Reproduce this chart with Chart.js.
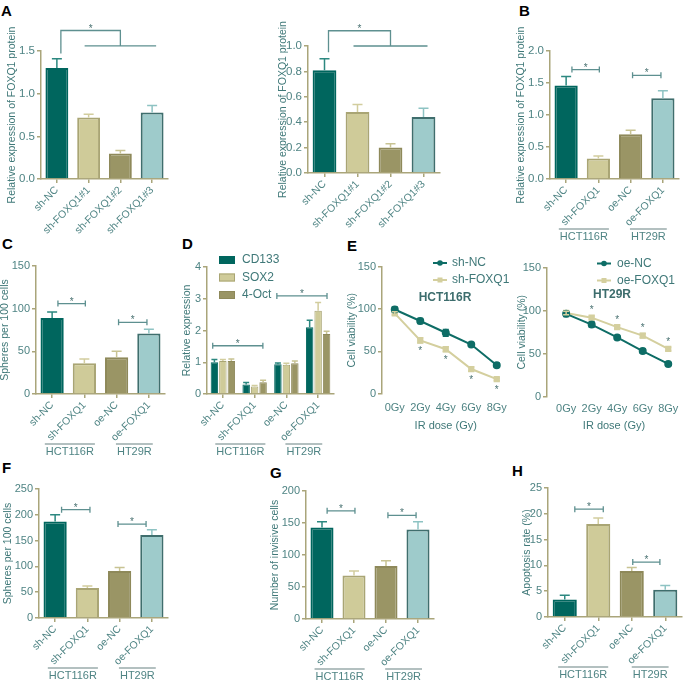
<!DOCTYPE html>
<html>
<head>
<meta charset="utf-8">
<script src="https://cdn.jsdelivr.net/npm/chart.js@4.4.1/dist/chart.umd.min.js"></script>
<style>
  body { margin: 0; background: #fff; width: 685px; height: 681px; position: relative; overflow: hidden; }
  canvas { position: absolute; }
  .lbl { position: absolute; font: bold 15px "Liberation Sans", Arial, sans-serif; line-height: 15px; color: #000; }
</style>
</head>
<body>
<div class="lbl" style="left:1px;top:3px">A</div>
<div class="lbl" style="left:519px;top:3px">B</div>
<div class="lbl" style="left:2px;top:236px">C</div>
<div class="lbl" style="left:182px;top:236px">D</div>
<div class="lbl" style="left:347px;top:238px">E</div>
<div class="lbl" style="left:2px;top:460px">F</div>
<div class="lbl" style="left:270px;top:465px">G</div>
<div class="lbl" style="left:512px;top:463px">H</div>

<canvas id="a1"></canvas>
<canvas id="a2"></canvas>
<canvas id="b"></canvas>
<canvas id="c"></canvas>
<canvas id="d"></canvas>
<canvas id="e1"></canvas>
<canvas id="e2"></canvas>
<canvas id="f"></canvas>
<canvas id="g"></canvas>
<canvas id="h"></canvas>

<script>
// categories
const shLabels = ['sh-NC', 'sh-FOXQ1#1', 'sh-FOXQ1#2', 'sh-FOXQ1#3'];
const groups4 = ['sh-NC', 'sh-FOXQ1', 'oe-NC', 'oe-FOXQ1'];
const cellLines = ['HCT116R', 'HT29R'];
const markers = ['CD133', 'SOX2', '4-Oct'];
const doses = [0, 2, 4, 6, 8];

// values (mean, error)
const a1Vals = [1.30, 0.72, 0.30, 0.78];
const a1Err = [0.11, 0.04, 0.035, 0.08];
const a2Vals = [0.81, 0.48, 0.20, 0.44];
const a2Err = [0.09, 0.06, 0.03, 0.07];
const bVals = [1.46, 0.32, 0.70, 1.26];
const bErr = [0.14, 0.04, 0.06, 0.12];
const cVals = [89, 36, 43, 71];
const cErr = [7, 5, 7, 5];
const dCD133 = [1.00, 0.30, 0.94, 2.10];
const dCD133Err = [0.09, 0.06, 0.04, 0.22];
const dSOX2 = [1.04, 0.24, 0.92, 2.62];
const dSOX2Err = [0.05, 0.03, 0.05, 0.26];
const dOct4 = [1.04, 0.37, 0.97, 1.89];
const dOct4Err = [0.06, 0.06, 0.07, 0.09];
const e1ShNC = [99.6, 86, 72, 58, 33.5];
const e1ShNCErr = [3, 3, 4, 2, 2.5];
const e1ShFOXQ1 = [95, 63, 52.5, 29, 17];
const e1ShFOXQ1Err = [2, 3, 3, 2.5, 1.5];
const e2OeNC = [96.5, 84, 69, 53, 38];
const e2OeNCErr = [3, 3, 2, 2.5, 1.5];
const e2OeFOXQ1 = [97.5, 92, 81, 71, 55.5];
const e2OeFOXQ1Err = [2, 2, 2, 2.5, 2];
const fVals = [187, 58, 91, 161];
const fErr = [13, 4, 7, 10];
const gVals = [143, 68, 83, 140];
const gErr = [9, 7, 8, 12];
const hVals = [3.4, 18.0, 8.9, 5.3];
const hErr = [0.8, 1.2, 0.7, 0.8];

const FONT = '"Liberation Sans", Arial, sans-serif';
const AXIS = '#aaa57a';
const TICK = '#4f8484';
const TITLE = '#3f7878';
const SIG = '#5e9090';
const TEAL = '#00665e', KHAKI = '#cfcb99', OLIVE = '#9a9565', LTEAL = '#9ecbcb';
const FILL4 = [TEAL, KHAKI, OLIVE, LTEAL];
const EDGE4 = [TEAL, '#a9a574', '#8e895a', '#3f6e6d'];
const ERR4 = ['#2c8880', '#d2cd9e', '#c8c393', '#8ec3c3'];

Chart.defaults.font.family = FONT;
Chart.defaults.color = TICK;
Chart.defaults.animation = false;
Chart.defaults.plugins.legend.display = false;
Chart.defaults.plugins.tooltip.enabled = false;

// error bars (up only on bars, both ways on lines)
const errorBars = {
  id: 'errorBars',
  afterDatasetsDraw(chart) {
    const ctx = chart.ctx, ys = chart.scales.y;
    chart.data.datasets.forEach((ds, di) => {
      if (!ds.err) return;
      const meta = chart.getDatasetMeta(di);
      const isLine = meta.type === 'line';
      meta.data.forEach((el, i) => {
        const raw = ds.data[i];
        const v = typeof raw === 'object' ? raw.y : raw;
        const top = ys.getPixelForValue(v + ds.err[i]);
        const base = isLine ? ys.getPixelForValue(v - ds.err[i]) : el.y;
        const cap = ds.cap || 5;
        ctx.save();
        ctx.strokeStyle = Array.isArray(ds.errColor) ? ds.errColor[i] : ds.errColor;
        ctx.lineWidth = 1.5;
        ctx.beginPath();
        ctx.moveTo(el.x, base); ctx.lineTo(el.x, top);
        ctx.moveTo(el.x - cap, top); ctx.lineTo(el.x + cap, top);
        if (isLine) { ctx.moveTo(el.x - cap, base); ctx.lineTo(el.x + cap, base); }
        ctx.stroke();
        ctx.restore();
      });
    });
  }
};

// significance brackets |--*--|
const sig = {
  id: 'sig',
  afterDraw(chart, args, o) {
    const ctx = chart.ctx, xs = chart.scales.x, ys = chart.scales.y;
    const sp = xs.getPixelForValue(1) - xs.getPixelForValue(0);
    const px = i => xs.getPixelForValue(i);
    ctx.save();
    ctx.strokeStyle = SIG; ctx.fillStyle = '#4a7272'; ctx.lineWidth = 1.3;
    ctx.font = '10px ' + FONT; ctx.textAlign = 'center'; ctx.textBaseline = 'alphabetic';
    (o.items || []).forEach(it => {
      const x1 = px(it.a) + it.da * sp, x2 = px(it.b) + it.db * sp;
      const y = ys.getPixelForValue(it.v);
      ctx.beginPath();
      ctx.moveTo(x1, y); ctx.lineTo(x2, y);
      ctx.moveTo(x1, y - 3); ctx.lineTo(x1, y + 3);
      ctx.moveTo(x2, y - 3); ctx.lineTo(x2, y + 3);
      ctx.stroke();
      ctx.fillText('*', (x1 + x2) / 2, y + 1);
    });
    if (o.tree) {
      const t = o.tree;
      const x0 = px(0) + 4, xm = px(2);
      ctx.beginPath();
      ctx.moveTo(x0, ys.getPixelForValue(t.start));
      ctx.lineTo(x0, ys.getPixelForValue(t.top));
      ctx.lineTo(xm, ys.getPixelForValue(t.top));
      ctx.lineTo(xm, ys.getPixelForValue(t.low));
      ctx.moveTo(px(1) - 4, ys.getPixelForValue(t.low));
      ctx.lineTo(px(3) + 4, ys.getPixelForValue(t.low));
      ctx.stroke();
      ctx.fillText('*', (x0 + xm) / 2, ys.getPixelForValue(t.top) + 1);
    }
    ctx.restore();
  }
};

// HCT116R / HT29R labels under the category labels
const groupsBelow = {
  id: 'groupsBelow',
  afterDraw(chart, args, o) {
    if (!o.items) return;
    const ctx = chart.ctx, xs = chart.scales.x;
    const sp = xs.getPixelForValue(1) - xs.getPixelForValue(0);
    const yLine = chart.chartArea.bottom + 50;
    ctx.save();
    ctx.font = '11px ' + FONT;
    ctx.textAlign = 'center'; ctx.textBaseline = 'top';
    o.items.forEach(g => {
      const cx = (xs.getPixelForValue(g.a) + xs.getPixelForValue(g.b)) / 2 + 0.05 * sp;
      const w = ctx.measureText(g.text).width + 2;
      ctx.strokeStyle = '#9aabab'; ctx.lineWidth = 1.3;
      ctx.beginPath(); ctx.moveTo(cx - w / 2, yLine); ctx.lineTo(cx + w / 2, yLine); ctx.stroke();
      ctx.fillStyle = TICK;
      ctx.fillText(g.text, cx, yLine + 2);
    });
    ctx.restore();
  }
};

// legends drawn inside the panel
const sideLegend = {
  id: 'sideLegend',
  afterDraw(chart, args, o) {
    if (!o.kind) return;
    const ctx = chart.ctx, ca = chart.chartArea;
    ctx.save();
    ctx.textBaseline = 'middle'; ctx.textAlign = 'left';
    chart.data.datasets.forEach((ds, i) => {
      const x = ca.left + o.x, y = ca.top + o.y + i * o.gap;
      if (o.kind === 'box') {
        ctx.fillStyle = ds.backgroundColor;
        ctx.fillRect(x, y - 4, 16, 8);
        ctx.strokeStyle = ds.borderColor; ctx.lineWidth = 1;
        ctx.strokeRect(x + 0.5, y - 3.5, 15, 7);
      } else {
        ctx.strokeStyle = ds.borderColor; ctx.lineWidth = 2;
        ctx.beginPath(); ctx.moveTo(x, y); ctx.lineTo(x + 14, y); ctx.stroke();
        ctx.fillStyle = ds.borderColor;
        if (ds.pointStyle === 'rect') ctx.fillRect(x + 4.5, y - 2.5, 5, 5);
        else { ctx.beginPath(); ctx.arc(x + 7, y, 2.8, 0, Math.PI * 2); ctx.fill(); }
      }
      ctx.fillStyle = TITLE;
      ctx.font = o.size + 'px ' + FONT;
      ctx.fillText(ds.label, x + o.tx, y);
    });
    if (o.title) {
      ctx.font = 'bold 12px ' + FONT;
      ctx.fillStyle = '#3d6d6d'; ctx.textAlign = 'center';
      ctx.fillText(o.title, ca.left + o.titleX, ca.top + o.titleY);
    }
    ctx.restore();
  }
};

// asterisks beside points of one line
const pointStars = {
  id: 'pointStars',
  afterDraw(chart, args, o) {
    if (o.ds === undefined) return;
    const ctx = chart.ctx;
    const meta = chart.getDatasetMeta(o.ds);
    ctx.save();
    ctx.fillStyle = '#4a7272'; ctx.font = '10px ' + FONT;
    ctx.textAlign = 'center'; ctx.textBaseline = 'middle';
    meta.data.forEach((el, i) => {
      if (i < 1) return;
      ctx.fillText('*', el.x, el.y + o.dy);
    });
    ctx.restore();
  }
};

function mount(id, g) {
  const c = document.getElementById(id);
  const L = Math.round(g.titleX - 7.5);
  const W = Math.round(g.right + 6 - L);
  const H = Math.round(g.cb - g.ct);
  c.width = W; c.height = H;
  c.style.left = L + 'px'; c.style.top = g.ct + 'px';
  c.style.width = W + 'px'; c.style.height = H + 'px';
  return {
    el: c,
    yWidth: g.axisX - L,
    padTop: g.top - g.ct,
    xHeight: g.cb - g.bottom,
    padRight: (L + W) - g.right
  };
}

function yAxis(m, g) {
  return {
    min: 0, max: g.max,
    afterFit: s => { s.width = m.yWidth; },
    ticks: { stepSize: g.step, color: TICK, font: { size: g.tickSize || 11 }, padding: 2,
             callback: g.fmt || (v => v) },
    grid: { drawOnChartArea: false, drawTicks: true, tickLength: 4, color: AXIS, lineWidth: 1.5 },
    border: { color: AXIS, width: 1.5 },
    title: { display: true, text: g.title, color: TITLE, font: { size: 10.5, lineHeight: 1 },
             padding: { top: 2, bottom: 0 } }
  };
}

function barPanel(id, g, labels, datasets, pluginOpts) {
  const m = mount(id, g);
  return new Chart(m.el, {
    type: 'bar',
    data: { labels, datasets },
    options: {
      responsive: false,
      layout: { padding: { top: m.padTop, right: m.padRight, left: 0, bottom: 0 } },
      scales: {
        x: {
          offset: true,
          afterFit: s => { s.height = m.xHeight; },
          ticks: { color: TICK, font: { size: 10.5 }, minRotation: 45, maxRotation: 45, autoSkip: false, padding: 1 },
          grid: { offset: false, drawOnChartArea: false, drawTicks: true, tickLength: 4, color: AXIS, lineWidth: 1.5 },
          border: { color: AXIS, width: 1.5 }
        },
        y: yAxis(m, g)
      },
      plugins: pluginOpts
    },
    plugins: [errorBars, sig, groupsBelow, sideLegend]
  });
}

function bars4(vals, err) {
  return [{
    data: vals, err, errColor: ERR4, cap: 5,
    backgroundColor: FILL4, borderColor: EDGE4, borderWidth: 2,
    barPercentage: 0.72, categoryPercentage: 1
  }];
}

const cellGroups = { items: [{ a: 0, b: 1, text: cellLines[0] }, { a: 2, b: 3, text: cellLines[1] }] };
const fmt1 = v => v.toFixed(1);
const FOXQ1_TITLE = 'Relative expression of FOXQ1 protein';

// A (left)
barPanel('a1', { axisX: 41, top: 51, bottom: 179, right: 168, titleX: 12.3, ct: 15, cb: 240,
  max: 1.5, step: 0.5, fmt: fmt1, tickSize: 11.5, title: FOXQ1_TITLE },
  shLabels, bars4(a1Vals, a1Err),
  { sig: { tree: { start: 1.47, top: 1.74, low: 1.56 } } });

// A (right)
barPanel('a2', { axisX: 308, top: 46, bottom: 173, right: 440, titleX: 283.3, ct: 15, cb: 240,
  max: 1.0, step: 0.2, fmt: fmt1, tickSize: 11.5, title: FOXQ1_TITLE },
  shLabels, bars4(a2Vals, a2Err),
  { sig: { tree: { start: 0.95, top: 1.12, low: 1.0 } } });

// B
barPanel('b', { axisX: 550, top: 51, bottom: 179, right: 679, titleX: 521.7, ct: 15, cb: 245,
  max: 2.0, step: 0.5, fmt: fmt1, tickSize: 11.5, title: FOXQ1_TITLE },
  groups4, bars4(bVals, bErr),
  { sig: { items: [{ a: 0, b: 1, da: 0.18, db: 0.03, v: 1.71 }, { a: 2, b: 3, da: 0.06, db: -0.06, v: 1.62 }] },
    groupsBelow: cellGroups });

// C
barPanel('c', { axisX: 36, top: 266, bottom: 394, right: 165, titleX: 5.5, ct: 255, cb: 460,
  max: 150, step: 50, title: 'Spheres per 100 cells' },
  groups4, bars4(cVals, cErr),
  { sig: { items: [{ a: 0, b: 1, da: 0.18, db: 0.03, v: 106 }, { a: 2, b: 3, da: 0.06, db: -0.06, v: 84 }] },
    groupsBelow: cellGroups });

// D
barPanel('d', { axisX: 207, top: 267, bottom: 394, right: 334, titleX: 187.7, ct: 250, cb: 460,
  max: 4, step: 1, title: 'Relative expression' },
  groups4, [
    { label: markers[0], data: dCD133, err: dCD133Err, errColor: '#2c8880', cap: 3,
      backgroundColor: TEAL, borderColor: TEAL, borderWidth: 1, barPercentage: 0.88, categoryPercentage: 0.8 },
    { label: markers[1], data: dSOX2, err: dSOX2Err, errColor: '#d2cd9e', cap: 3,
      backgroundColor: KHAKI, borderColor: '#a9a574', borderWidth: 1, barPercentage: 0.88, categoryPercentage: 0.8 },
    { label: markers[2], data: dOct4, err: dOct4Err, errColor: '#c8c393', cap: 3,
      backgroundColor: OLIVE, borderColor: '#8e895a', borderWidth: 1, barPercentage: 0.88, categoryPercentage: 0.8 }
  ],
  { sig: { items: [{ a: 0, b: 1, da: -0.32, db: 0.26, v: 1.52 }, { a: 2, b: 3, da: -0.3, db: 0.28, v: 3.09 }] },
    groupsBelow: cellGroups,
    sideLegend: { kind: 'box', x: 12, y: -7, gap: 17.5, tx: 23, size: 12 } });

// E
function linePanel(id, g, sets, pluginOpts) {
  const m = mount(id, g);
  return new Chart(m.el, {
    type: 'line',
    data: { datasets: sets },
    options: {
      responsive: false,
      layout: { padding: { top: m.padTop, right: m.padRight, left: 0, bottom: 0 } },
      scales: {
        x: {
          type: 'linear', min: g.xmin, max: 9,
          afterFit: s => { s.height = m.xHeight; },
          afterBuildTicks: s => { s.ticks = doses.map(v => ({ value: v })); },
          ticks: { color: TICK, font: { size: 11 }, padding: g.xpad, callback: v => v + 'Gy', maxRotation: 0, autoSkip: false },
          grid: { display: false, drawTicks: false },
          border: { display: false },
          title: { display: true, text: 'IR dose (Gy)', color: TITLE, font: { size: 11, lineHeight: 1 },
                   padding: { top: 0, bottom: 2 } }
        },
        y: yAxis(m, g)
      },
      plugins: pluginOpts
    },
    plugins: [errorBars, sideLegend, pointStars]
  });
}

const NCLINE = '#0e6d66', FXLINE = '#d4cf9e';
function series(label, vals, err, color, style) {
  return {
    label, data: doses.map((d, i) => ({ x: d, y: vals[i] })), err, errColor: color, cap: 3,
    borderColor: color, backgroundColor: color, borderWidth: 2, pointStyle: style,
    pointRadius: 3, pointBackgroundColor: color, pointBorderColor: color, tension: 0
  };
}

linePanel('e1', { axisX: 382, top: 267, bottom: 393, right: 509.5, titleX: 352.3, ct: 250, cb: 432.5,
  max: 150, step: 50, xmin: -1, xpad: 8, title: 'Cell viability (%)' },
  [series('sh-NC', e1ShNC, e1ShNCErr, NCLINE, 'circle'),
   series('sh-FOXQ1', e1ShFOXQ1, e1ShFOXQ1Err, FXLINE, 'rect')],
  { sideLegend: { kind: 'line', x: 51, y: -4, gap: 17, tx: 19, size: 12, title: cellLines[0], titleX: 63, titleY: 31 },
    pointStars: { ds: 1, dy: 11 } });

linePanel('e2', { axisX: 547, top: 268, bottom: 396, right: 681.4, titleX: 522.7, ct: 250, cb: 432.5,
  max: 150, step: 50, xmin: -1.5, xpad: 6, title: 'Cell viability (%)' },
  [series('oe-NC', e2OeNC, e2OeNCErr, NCLINE, 'circle'),
   series('oe-FOXQ1', e2OeFOXQ1, e2OeFOXQ1Err, FXLINE, 'rect')],
  { sideLegend: { kind: 'line', x: 50, y: -4.5, gap: 17, tx: 20, size: 12, title: cellLines[1], titleX: 65, titleY: 27 },
    pointStars: { ds: 1, dy: -7 } });

// F
barPanel('f', { axisX: 39, top: 489, bottom: 618, right: 168, titleX: 8.3, ct: 478, cb: 681,
  max: 250, step: 50, title: 'Spheres per 100 cells' },
  groups4, bars4(fVals, fErr),
  { sig: { items: [{ a: 0, b: 1, da: 0.2, db: 0.08, v: 210 }, { a: 2, b: 3, da: -0.05, db: -0.18, v: 182 }] },
    groupsBelow: cellGroups });

// G
barPanel('g', { axisX: 306, top: 491, bottom: 619, right: 434, titleX: 275, ct: 478, cb: 681,
  max: 200, step: 50, title: 'Number of invisive cells' },
  groups4, bars4(gVals, gErr),
  { sig: { items: [{ a: 0, b: 1, da: 0.16, db: 0.03, v: 169 }, { a: 2, b: 3, da: 0.06, db: -0.06, v: 162 }] },
    groupsBelow: cellGroups });

// H
barPanel('h', { axisX: 548, top: 488, bottom: 617, right: 682, titleX: 527.5, ct: 478, cb: 681,
  max: 25, step: 5, title: 'Apoptosis rate (%)' },
  groups4, bars4(hVals, hErr),
  { sig: { items: [{ a: 0, b: 1, da: 0.3, db: 0.15, v: 20.9 }, { a: 2, b: 3, da: 0.03, db: -0.16, v: 10.65 }] },
    groupsBelow: cellGroups });
</script>
</body>
</html>
